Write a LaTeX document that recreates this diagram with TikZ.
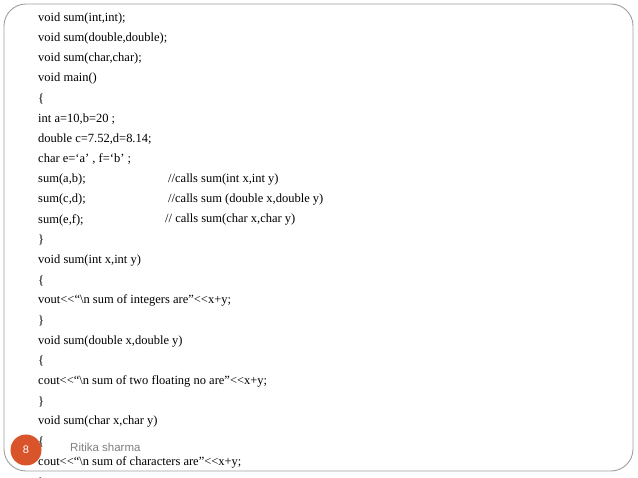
\documentclass[tikz,border=0pt]{standalone}
\usepackage{fontspec}
\setmainfont{Liberation Serif}
\newfontfamily\labfont{Liberation Sans}
\begin{document}
\begin{tikzpicture}[x=1pt,y=-1pt,
  code/.style={anchor=west,inner sep=0pt,font=\fontsize{12.5}{14}\selectfont},
  cmt/.style={anchor=west,inner sep=0pt,font=\fontsize{12.5}{14}\selectfont}]
\useasboundingbox (0,0) rectangle (638,478);
\fill[white] (0,0) rectangle (638,478);
\draw[gray!75,line width=0.9pt,rounded corners=22pt] (4,4) rectangle (633,471);
\foreach \t [count=\i from 0] in {
 {void sum(int,int);},{void sum(double,double);},{void sum(char,char);},{void main()},{\{},
 {int a=10,b=20 ;},{double c=7.52,d=8.14;},{char e=`a' , f=`b' ;},{sum(a,b);},{sum(c,d);},{sum(e,f);},
 {\}},{void sum(int x,int y)},{\{},{vout{<}{<}``\textbackslash n sum of integers are''{<}{<}x+y;},{\}},
 {void sum(double x,double y)},{\{},{cout{<}{<}``\textbackslash n sum of two floating no are''{<}{<}x+y;},{\}},
 {void sum(char x,char y)},{\{},{cout{<}{<}``\textbackslash n sum of characters are''{<}{<}x+y;},{\}}}
 {\node[code] (l\i) at (38,{18+\i*20.2}) {\t};}
\node[cmt] (c1) at (168,{18+8*20.2}) {//calls sum(int x,int y)};
\node[cmt] (c2) at (168,{18+9*20.2}) {//calls sum (double x,double y)};
\node[cmt] (c3) at (165,{18+10*20.2}) {// calls sum(char x,char y)};
\node[circle,fill={rgb,255:red,217;green,83;blue,43},minimum size=31pt,inner sep=0pt,
  text=white,font=\labfont\fontsize{11}{13}\selectfont] (num) at (26,450) {8};
\node[anchor=west,inner sep=0pt,text=gray,font=\labfont\fontsize{11.5}{13}\selectfont] (auth) at (70,447) {Ritika sharma};
\end{tikzpicture}
\end{document}
